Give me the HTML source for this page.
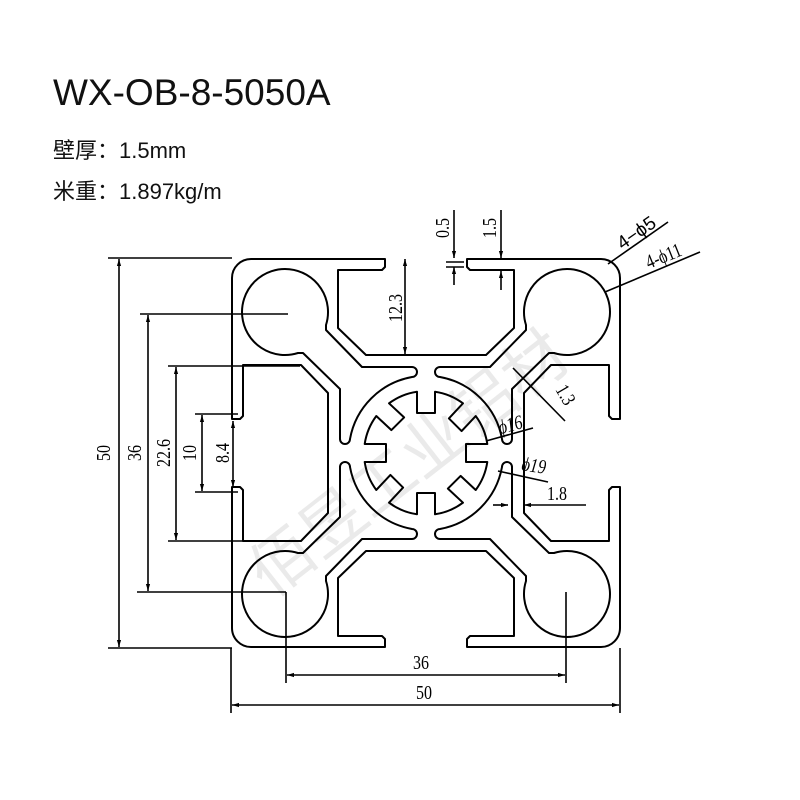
<!DOCTYPE html>
<html><head><meta charset="utf-8">
<style>
html,body{margin:0;padding:0;background:#fff;}
body{width:800px;height:800px;position:relative;overflow:hidden;}
.t{position:absolute;left:53px;font-family:"Liberation Sans","Noto Sans CJK SC",sans-serif;color:#111;}
</style></head><body>
<div class="t" style="top:72px;font-size:37px;">WX-OB-8-5050A</div>
<div class="t" style="top:133px;font-size:22px;">壁厚：1.5mm</div>
<div class="t" style="top:174px;font-size:22px;">米重：1.897kg/m</div>
<svg width="800" height="800" style="position:absolute;left:0;top:0" xmlns="http://www.w3.org/2000/svg">
<defs>
<marker id="a" viewBox="0 0 10 10" refX="10" refY="5" markerWidth="7" markerHeight="7" orient="auto-start-reverse" markerUnits="userSpaceOnUse"><path d="M0,2 L10,5 L0,8 Z" fill="#000"/></marker>
</defs>
<g font-family="Liberation Sans, Noto Sans CJK SC, sans-serif" font-size="64" fill="#ddd" opacity="0.6" transform="translate(410,465) rotate(-38)">
<text x="0" y="20" text-anchor="middle">佰昱工业铝材</text></g>
<g transform="translate(426,453)" fill="none" stroke="#000" stroke-width="2" stroke-linejoin="round">
<path d="M -175,-194 L -41,-194 L -41,-186 L -44,-183 L -88,-183 L -88,-125 L -60,-98 L 60,-98 L 88,-125 L 88,-183 L 44,-183 L 41,-186 L 41,-194 L 175,-194 A 19 19 0 0 1 194,-175"/>
<path transform="rotate(180)" d="M -175,-194 L -41,-194 L -41,-186 L -44,-183 L -88,-183 L -88,-125 L -60,-98 L 60,-98 L 88,-125 L 88,-183 L 44,-183 L 41,-186 L 41,-194 L 175,-194 A 19 19 0 0 1 194,-175"/>
<path transform="rotate(90)" d="M -175,-194 L -34,-194 L -34,-186 L -37,-183 L -88,-183 L -88,-125 L -60,-98 L 60,-98 L 88,-125 L 88,-183 L 37,-183 L 34,-186 L 34,-194 L 175,-194 A 19 19 0 0 1 194,-175"/>
<path transform="rotate(270)" d="M -175,-194 L -34,-194 L -34,-186 L -37,-183 L -88,-183 L -88,-125 L -60,-98 L 60,-98 L 88,-125 L 88,-183 L 37,-183 L 34,-186 L 34,-194 L 175,-194 A 19 19 0 0 1 194,-175"/>
<path d="M -100,-128 L -100,-123 L -64,-86 L -14,-86 A 5 5 0 0 1 -14,-76 A 77 77 0 0 0 -76,-14 A 5 5 0 0 1 -86,-14 L -86,-64 L -123,-100 L -128,-100 A 43 43 0 1 1 -100,-128 Z"/>
<path transform="rotate(90)" d="M -100,-128 L -100,-123 L -64,-86 L -14,-86 A 5 5 0 0 1 -14,-76 A 77 77 0 0 0 -76,-14 A 5 5 0 0 1 -86,-14 L -86,-64 L -123,-100 L -128,-100 A 43 43 0 1 1 -100,-128 Z"/>
<path transform="rotate(180)" d="M -100,-128 L -100,-123 L -64,-86 L -14,-86 A 5 5 0 0 1 -14,-76 A 77 77 0 0 0 -76,-14 A 5 5 0 0 1 -86,-14 L -86,-64 L -123,-100 L -128,-100 A 43 43 0 1 1 -100,-128 Z"/>
<path transform="rotate(270)" d="M -100,-128 L -100,-123 L -64,-86 L -14,-86 A 5 5 0 0 1 -14,-76 A 77 77 0 0 0 -76,-14 A 5 5 0 0 1 -86,-14 L -86,-64 L -123,-100 L -128,-100 A 43 43 0 1 1 -100,-128 Z"/>
<path d="M -9,-61.3 L -9,-40 L 9,-40 L 9,-61.3 A 62 62 0 0 1 36.98,-49.7 L 22.9,-34.6 L 35.6,-21.9 L 49.7,-36.98 A 62 62 0 0 1 61.3,-9 L 40,-9 L 40,9 L 61.3,9 A 62 62 0 0 1 49.7,36.98 L 34.6,22.9 L 21.9,35.6 L 36.98,49.7 A 62 62 0 0 1 9,61.3 L 9,40 L -9,40 L -9,61.3 A 62 62 0 0 1 -36.98,49.7 L -22.9,34.6 L -35.6,21.9 L -49.7,36.98 A 62 62 0 0 1 -61.3,9 L -40,9 L -40,-9 L -61.3,-9 A 62 62 0 0 1 -49.7,-36.98 L -34.6,-22.9 L -21.9,-35.6 L -36.98,-49.7 A 62 62 0 0 1 -9,-61.3 Z"/>
</g>
<g stroke="#000" stroke-width="1.6" fill="none">
<line x1="108" y1="258" x2="232" y2="258"/><line x1="108" y1="648" x2="232" y2="648"/>
<line x1="119" y1="259" x2="119" y2="647" marker-start="url(#a)" marker-end="url(#a)"/>
<line x1="140" y1="314" x2="288" y2="314"/><line x1="137" y1="592" x2="286" y2="592"/>
<line x1="148" y1="315" x2="148" y2="591" marker-start="url(#a)" marker-end="url(#a)"/>
<line x1="168" y1="366" x2="300" y2="366"/><line x1="168" y1="541" x2="300" y2="541"/>
<line x1="176" y1="367" x2="176" y2="540" marker-start="url(#a)" marker-end="url(#a)"/>
<line x1="195" y1="414" x2="238" y2="414"/><line x1="195" y1="492" x2="238" y2="492"/>
<line x1="202" y1="415" x2="202" y2="491" marker-start="url(#a)" marker-end="url(#a)"/>
<line x1="233" y1="421" x2="233" y2="487" marker-start="url(#a)" marker-end="url(#a)"/>
<line x1="286" y1="592" x2="286" y2="683"/><line x1="566" y1="592" x2="566" y2="683"/>
<line x1="287" y1="675" x2="565" y2="675" marker-start="url(#a)" marker-end="url(#a)"/>
<line x1="231" y1="648" x2="231" y2="713"/><line x1="620" y1="648" x2="620" y2="713"/>
<line x1="232" y1="705" x2="619" y2="705" marker-start="url(#a)" marker-end="url(#a)"/>
<line x1="405" y1="259" x2="405" y2="354" marker-start="url(#a)" marker-end="url(#a)"/>
<line x1="454" y1="210" x2="454" y2="258" marker-end="url(#a)"/><line x1="454" y1="285" x2="454" y2="267" marker-end="url(#a)"/>
<line x1="446" y1="262" x2="464" y2="262"/><line x1="446" y1="267" x2="464" y2="267"/>
<line x1="501" y1="210" x2="501" y2="258" marker-end="url(#a)"/><line x1="501" y1="290" x2="501" y2="271" marker-end="url(#a)"/>
<line x1="608" y1="264" x2="668" y2="222"/>
<line x1="605" y1="292" x2="700" y2="252"/>
<line x1="513" y1="368" x2="565" y2="421"/>
<line x1="486" y1="441" x2="533" y2="428"/>
<line x1="498" y1="471" x2="548" y2="482"/>
<line x1="493" y1="505" x2="508" y2="505" marker-end="url(#a)"/>
<line x1="586" y1="505" x2="524" y2="505" marker-end="url(#a)"/>
</g>
<g font-family="Liberation Serif, serif" font-size="20" fill="#000">
<text transform="translate(110,453) rotate(-90) scale(0.8,1)" text-anchor="middle">50</text>
<text transform="translate(141,453) rotate(-90) scale(0.8,1)" text-anchor="middle">36</text>
<text transform="translate(170,453) rotate(-90) scale(0.8,1)" text-anchor="middle">22.6</text>
<text transform="translate(196,453) rotate(-90) scale(0.8,1)" text-anchor="middle">10</text>
<text transform="translate(229,453) rotate(-90) scale(0.8,1)" text-anchor="middle">8.4</text>
<text transform="translate(402,308) rotate(-90) scale(0.8,1)" text-anchor="middle">12.3</text>
<text transform="translate(449,228) rotate(-90) scale(0.8,1)" text-anchor="middle">0.5</text>
<text transform="translate(496,228) rotate(-90) scale(0.8,1)" text-anchor="middle">1.5</text>
<text transform="translate(421,669) scale(0.8,1)" text-anchor="middle">36</text>
<text transform="translate(424,699) scale(0.8,1)" text-anchor="middle">50</text>
<text transform="translate(557,500) scale(0.8,1)" text-anchor="middle">1.8</text>
<text transform="translate(560,398) rotate(60) scale(0.8,1)" text-anchor="middle">1.3</text>
<text transform="translate(512,431) rotate(-15) scale(0.8,1)" text-anchor="middle" font-style="italic">ϕ16</text>
<text transform="translate(533,472) rotate(8) scale(0.8,1)" text-anchor="middle" font-style="italic">ϕ19</text>
<text transform="translate(640,238) rotate(-35)" text-anchor="middle" font-size="19" font-family="Liberation Sans, sans-serif">4−ϕ5</text>
<text transform="translate(666,262) rotate(-22) scale(0.8,1)" text-anchor="middle">4-ϕ11</text>
</g>
</svg>
</body></html>
